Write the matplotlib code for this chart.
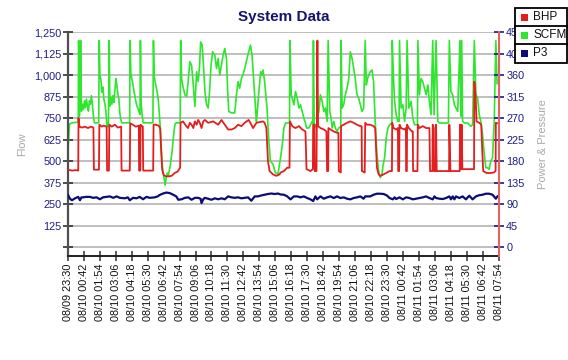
import matplotlib
matplotlib.use('Agg')
import matplotlib.pyplot as plt
import matplotlib.dates as mdates
from matplotlib.patches import Rectangle
import pandas as pd

plt.rcParams['font.family'] = ['Liberation Sans', 'DejaVu Sans']

# hours after 08/09 23:30
start = pd.Timestamp('2023-08-09 23:30')

scfm_hours = [0.00, 0.11, 0.30, 0.60, 0.77, 0.80, 0.85, 0.90, 0.95, 1.01, 1.09, 1.16, 1.24, 1.31, 1.39, 1.46,
              1.54, 1.61, 1.69, 1.76, 1.84, 1.91, 1.99, 2.31, 2.35, 2.40, 2.48, 2.55, 2.63, 2.70, 2.78, 2.85,
              2.93, 3.04, 3.10, 3.15, 3.23, 3.30, 3.38, 3.45, 3.53, 3.60, 3.68, 3.75, 3.83, 3.90, 3.98, 4.05,
              4.64, 4.67, 4.73, 4.80, 4.88, 4.95, 5.03, 5.10, 5.18, 5.25, 5.33, 5.42, 5.45, 5.51, 5.59, 5.66,
              6.39, 6.43, 6.49, 6.56, 6.64, 6.71, 6.79, 6.86, 6.94, 7.01, 7.09, 7.16, 7.24, 7.31, 7.39, 7.46,
              7.54, 7.61, 7.69, 7.76, 7.84, 7.91, 7.99, 8.06, 8.14, 8.44, 8.48, 8.55, 8.66, 8.80, 8.93, 9.04,
              9.17, 9.30, 9.41, 9.55, 9.68, 9.80, 9.90, 9.98, 10.10, 10.20, 10.31, 10.43, 10.55, 10.65, 10.76,
              10.88, 11.05, 11.18, 11.30, 11.42, 11.55, 11.66, 11.80, 11.93, 12.02, 12.10, 12.30, 12.55, 12.68,
              12.80, 12.92, 13.05, 13.16, 13.30, 13.43, 13.58, 13.73, 13.85, 13.95, 14.05, 14.18, 14.25, 14.36,
              14.50, 14.59, 14.68, 14.80, 14.89, 14.98, 15.10, 15.23, 15.43, 15.60, 15.80, 16.00, 16.13, 16.25,
              16.37, 16.67, 16.70, 16.80, 16.88, 17.00, 17.12, 17.25, 17.38, 17.50, 17.63, 17.75, 17.87, 17.95,
              18.13, 18.25, 18.38, 18.43, 18.47, 18.53, 18.62, 18.70, 18.77, 18.88, 19.00, 19.13, 19.25, 19.37,
              19.50, 19.58, 19.70, 19.80, 19.88, 20.00, 20.12, 20.25, 20.38, 20.53, 20.55, 20.63, 20.75, 20.87,
              21.00, 21.13, 21.25, 21.38, 21.50, 21.62, 21.75, 21.88, 22.00, 22.13, 22.25, 22.37, 22.45, 22.55,
              22.63, 22.75, 22.88, 23.00, 23.12, 23.25, 23.38, 23.50, 23.63, 23.70, 23.83, 23.95, 24.08, 24.20,
              24.38, 24.40, 24.50, 24.58, 24.70, 24.83, 24.92, 24.95, 25.07, 25.20, 25.33, 25.45, 25.52, 25.65,
              25.82, 25.95, 26.08, 26.30, 26.33, 26.45, 26.57, 26.70, 26.83, 26.95, 27.08, 27.20, 27.32, 27.45,
              27.55, 27.70, 27.83, 27.95, 28.63, 28.70, 28.82, 28.95, 29.08, 29.20, 29.33, 29.50, 29.57, 29.63,
              29.70, 29.83, 30.08, 30.20, 30.32, 30.45, 30.58, 30.70, 30.83, 30.95, 31.07, 31.20, 31.33, 31.45,
              31.58, 31.70, 31.82, 31.95, 32.08, 32.20, 32.29]
scfm = [560, 715, 722, 725, 725, 1200, 760, 810, 1200, 790, 830, 800, 850, 810, 860, 820,
        790, 850, 830, 880, 830, 760, 722, 722, 1200, 1000, 970, 900, 930, 860, 830, 790,
        700, 700, 1200, 820, 870, 830, 880, 840, 910, 980, 940, 890, 860, 780, 740, 722,
        722, 1200, 1010, 980, 950, 910, 880, 850, 820, 810, 790, 770, 1200, 830, 760, 722,
        722, 1200, 990, 960, 930, 900, 860, 790, 700, 600, 480, 430, 400, 360, 400, 430,
        410, 440, 470, 510, 560, 620, 680, 715, 722, 722, 1200, 980, 930, 885, 875, 960,
        1077, 1058, 960, 817, 1019, 962, 1050, 1192, 1173, 1050, 900, 827, 808, 900, 1050,
        1135, 1115, 1038, 1096, 1000, 1058, 1110, 1154, 1096, 900, 788, 780, 780, 885,
        962, 923, 980, 1000, 1038, 1080, 1130, 1173, 1115, 1000, 885, 730, 788, 900,
        1019, 1000, 1029, 962, 880, 808, 635, 500, 481, 433, 423, 520, 596, 692,
        721, 721, 1200, 885, 865, 827, 904, 865, 808, 827, 788, 750, 721, 692,
        692, 711, 730, 720, 1200, 711, 711, 692, 750, 788, 885, 846, 788, 808,
        730, 1200, 788, 750, 692, 730, 692, 673, 692, 700, 1200, 808, 827, 885,
        923, 980, 1135, 1096, 1038, 980, 885, 865, 827, 788, 808, 1200, 942, 980,
        1000, 1019, 1029, 961, 730, 538, 442, 404, 423, 470, 520, 635, 692, 711,
        721, 1200, 980, 846, 769, 730, 730, 1200, 808, 827, 730, 808, 1200, 808,
        846, 750, 711, 711, 1200, 885, 980, 961, 923, 885, 942, 846, 769, 1200,
        769, 1200, 730, 721, 721, 1200, 904, 885, 827, 808, 788, 1200, 760, 1200,
        730, 721, 721, 711, 702, 711, 1200, 885, 865, 769, 730, 654, 538, 461,
        461, 452, 500, 519, 730, 1200, 950]

bhp_hours = [0.00, 0.30, 0.60, 0.77, 0.79, 0.86, 1.05, 1.28, 1.50, 1.73, 1.91, 1.95, 2.33, 2.36, 2.55, 2.70,
             2.91, 2.94, 3.08, 3.11, 3.30, 3.53, 3.75, 4.00, 4.03, 4.65, 4.68, 4.88, 5.10, 5.33, 5.35, 5.44,
             5.46, 5.63, 5.66, 6.41, 6.44, 6.60, 6.83, 6.94, 7.01, 7.09, 7.20, 7.35, 7.58, 7.80, 8.03, 8.25,
             8.44, 8.47, 8.65, 8.90, 9.03, 9.17, 9.30, 9.43, 9.55, 9.68, 9.80, 9.92, 10.05, 10.18, 10.30,
             10.55, 10.93, 11.30, 11.55, 11.80, 12.05, 12.30, 12.55, 12.80, 13.05, 13.30, 13.60, 13.80, 13.93,
             14.18, 14.68, 14.80, 14.93, 15.05, 15.17, 15.43, 15.68, 15.92, 16.00, 16.25, 16.50, 16.67, 16.70,
             16.88, 17.12, 17.38, 17.63, 17.87, 17.95, 18.25, 18.43, 18.45, 18.55, 18.57, 18.70, 18.77, 18.82,
             19.00, 19.25, 19.45, 19.50, 19.58, 19.60, 19.75, 20.00, 20.25, 20.35, 20.38, 20.53, 20.55, 20.75,
             21.00, 21.25, 21.50, 21.75, 22.00, 22.10, 22.12, 22.33, 22.37, 22.50, 22.75, 23.00, 23.12, 23.25,
             23.38, 23.50, 23.75, 24.00, 24.20, 24.38, 24.40, 24.50, 24.70, 24.83, 24.85, 24.92, 24.95, 25.07,
             25.33, 25.43, 25.45, 25.50, 25.52, 25.65, 25.88, 25.95, 25.97, 26.30, 26.33, 26.45, 26.70, 26.95,
             27.20, 27.25, 27.43, 27.45, 27.53, 27.55, 27.68, 27.70, 27.75, 28.68, 28.70, 28.78, 29.48, 29.50,
             29.55, 29.61, 29.63, 29.68, 30.56, 30.58, 30.68, 30.75, 30.95, 31.10, 31.18, 31.25, 31.50, 31.80,
             32.05, 32.18, 32.20, 32.29]
bhp = [162, 160, 161, 160, 270, 252, 250, 252, 249, 252, 250, 162, 162, 256, 252, 254,
       252, 160, 160, 256, 252, 256, 250, 252, 160, 160, 259, 256, 252, 254, 160, 160,
       256, 252, 160, 160, 256, 256, 254, 248, 202, 162, 151, 148, 148, 149, 155, 158,
       166, 260, 263, 253, 249, 260, 256, 249, 263, 256, 266, 260, 249, 263, 266,
       260, 263, 256, 266, 256, 246, 246, 249, 256, 253, 260, 266, 256, 249,
       260, 263, 260, 249, 180, 159, 152, 149, 152, 156, 159, 166, 166, 263,
       253, 249, 253, 246, 242, 163, 159, 163, 256, 256, 159, 159, 432, 253,
       249, 246, 242, 159, 159, 249, 246, 242, 239, 239, 159, 156, 253, 256,
       260, 263, 260, 256, 253, 253, 159, 156, 260, 256, 256, 253, 249, 166,
       152, 149, 152, 156, 159, 159, 260, 249, 246, 249, 159, 159, 256, 249,
       246, 249, 159, 159, 256, 249, 242, 242, 159, 159, 256, 249, 253, 249,
       249, 159, 159, 256, 249, 159, 159, 256, 159, 159, 256, 159, 159, 256,
       163, 163, 256, 163, 163, 346, 315, 263, 260, 256, 200, 159, 155, 155,
       156, 159, 260, 259]

p3_hours = [0.00, 0.15, 0.30, 0.53, 0.77, 0.90, 1.01, 1.15, 1.35, 1.65, 1.88, 2.15, 2.40, 2.63, 2.90, 3.15,
            3.40, 3.65, 3.90, 4.28, 4.50, 4.65, 4.90, 5.15, 5.40, 5.65, 5.90, 6.15, 6.53, 6.75, 6.90, 7.15,
            7.40, 7.65, 7.88, 8.15, 8.30, 8.55, 8.80, 9.05, 9.30, 9.55, 9.80, 9.98, 10.05, 10.18, 10.30,
            10.55, 10.80, 11.05, 11.30, 11.55, 11.80, 12.05, 12.30, 12.55, 12.80, 13.05, 13.30, 13.55, 13.80,
            14.05, 14.30, 14.55, 14.80, 15.05, 15.30, 15.55, 15.80, 16.00, 16.25, 16.50, 16.75, 17.00, 17.25,
            17.50, 17.75, 18.00, 18.25, 18.45, 18.62, 18.75, 19.00, 19.25, 19.50, 19.75, 20.00, 20.25, 20.50,
            20.75, 21.00, 21.25, 21.50, 21.75, 22.00, 22.25, 22.37, 22.75, 23.00, 23.25, 23.50, 23.75, 24.00,
            24.20, 24.45, 24.58, 24.70, 24.95, 25.20, 25.45, 25.70, 25.95, 26.20, 26.45, 26.70, 26.95, 27.20,
            27.45, 27.58, 27.70, 27.95, 28.20, 28.45, 28.70, 28.82, 28.95, 29.08, 29.20, 29.45, 29.70, 29.95,
            30.20, 30.45, 30.70, 30.95, 31.20, 31.45, 31.70, 31.95, 32.20, 32.32]
p3 = [109, 101, 98, 102, 105, 98, 104, 104, 105, 105, 103, 104, 100, 104, 105, 106,
      103, 106, 103, 102, 104, 98, 103, 102, 105, 100, 105, 103, 104, 106, 109, 112,
      114, 113, 110, 106, 99, 100, 103, 104, 99, 103, 103, 101, 92, 100, 103,
      101, 99, 102, 100, 102, 100, 106, 104, 103, 104, 102, 103, 104, 97,
      106, 106, 108, 109.5, 111, 112, 111, 112, 110, 109.5, 106, 99.8, 106, 106,
      104, 106, 102.6, 99.8, 96.3, 106, 99.8, 106, 101.2, 104, 106, 102.6, 106, 102.6,
      104, 101.2, 99.8, 102.6, 104, 106, 101.2, 106, 106, 109.5, 111.6, 111.6, 111, 108,
      102.6, 99.8, 104, 100.5, 104, 99.8, 104, 102.6, 99.8, 101.2, 102.6, 104, 106, 102.6,
      99.8, 106, 102.6, 101.2, 100.5, 102.6, 106, 99.8, 106, 99.8, 106, 102.6, 106, 99.8,
      107.4, 99.8, 106, 108.5, 109.5, 111.6, 111.6, 109.5, 101.2, 106]

series = ['BHP', 'SCFM', 'P3']
colors = ['#e41e1e', '#2ee62e', '#0c0c78']

flow_ticks = [0, 125, 250, 375, 500, 625, 750, 875, 1000, 1125, 1250]
flow_labels = ['', '125', '250', '375', '500', '625', '750', '875', '1,000', '1,125', '1,250']
power_ticks = [0, 45, 90, 135, 180, 225, 270, 315, 360, 405, 450]

navy = '#1c1c8a'
W, H = 568, 360


def to_time(hours):
    return start + pd.to_timedelta(hours, unit='h')


fig = plt.figure(figsize=(W / 100, H / 100), dpi=100)
ax = fig.add_axes([68 / W, 1 - 256 / H, (498.5 - 68) / W, (256 - 32) / H])
ax2 = ax.twinx()

ax.plot(to_time(scfm_hours), scfm, color=colors[1], lw=1.2)
ax2.plot(to_time(bhp_hours), bhp, color=colors[0], lw=1.3)
ax2.plot(to_time(p3_hours), p3, color=colors[2], lw=1.6)

ax.set_ylim(-52, 1250)
ax2.set_ylim(-52 * 0.36, 450)
ax.set_xlim(start, to_time(32.4))

ax.set_yticks(flow_ticks)
ax.set_yticklabels(flow_labels)
ax2.set_yticks(power_ticks)
ax2.set_yticklabels([str(v) for v in power_ticks])

xt = pd.date_range(start, periods=28, freq='72min')
ax.set_xticks(xt)
ax.xaxis.set_major_formatter(mdates.DateFormatter('%m/%d %H:%M'))
for lab in ax.get_xticklabels():
    lab.set_rotation(90)

ax.grid(axis='y', color='#b4b4b4', lw=1.2)
ax.set_axisbelow(True)

for s in ['top', 'right']:
    ax.spines[s].set_visible(False)
for s in ['top', 'left', 'bottom']:
    ax2.spines[s].set_visible(False)
ax.spines['left'].set_color('#505050')
ax.spines['left'].set_linewidth(1.6)
ax.spines['bottom'].set_color('#202020')
ax.spines['bottom'].set_linewidth(1.4)
ax2.spines['right'].set_color('#e06464')
ax2.spines['right'].set_linewidth(1.5)

ax.tick_params(axis='y', direction='inout', length=7, width=1.2, color='#303030',
               labelcolor=navy, labelsize=7.8, pad=1)
ax.tick_params(axis='x', direction='inout', length=7, width=1.1, color='#303030',
               labelcolor='#101010', labelsize=7.8, pad=2)
ax2.tick_params(axis='y', direction='inout', length=7, width=1.2, color=navy,
                labelcolor=navy, labelsize=7.8, pad=2)

ax.set_title('System Data', color='#14146e', fontsize=11, fontweight='bold', pad=8)
fig.text(22.5 / W, 1 - 144 / H, 'Flow', rotation=90, color='#a8a8a8', fontsize=8,
         ha='center', va='center')
fig.text(543 / W, 1 - 144 / H, 'Power & Pressure', rotation=90, color='#a8a8a8', fontsize=8,
         ha='center', va='center')

# legend boxes
row_h = 18
for i, (name, c) in enumerate(zip(series, colors)):
    top = 8.5 + i * row_h
    fig.add_artist(Rectangle((515 / W, 1 - (top + row_h) / H), 52 / W, row_h / H,
                             transform=fig.transFigure, facecolor='white',
                             edgecolor='black', lw=1.3, zorder=10))
    fig.add_artist(Rectangle((521 / W, 1 - (top + 12.5) / H), 7 / W, 7 / H,
                             transform=fig.transFigure, facecolor=c, edgecolor='none', zorder=11))
    fig.text(533 / W, 1 - (top + row_h / 2) / H, name, fontsize=8.5, color='#101010',
             ha='left', va='center', zorder=12)

fig.savefig('out.png', dpi=100)
